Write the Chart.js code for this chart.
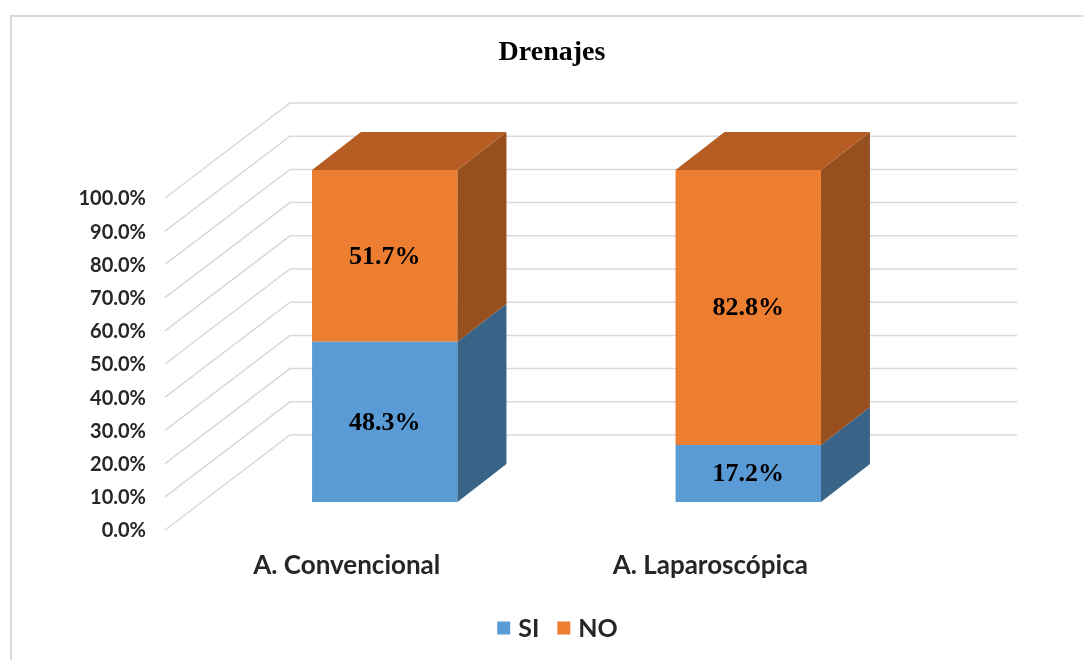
<!DOCTYPE html>
<html>
<head>
<meta charset="utf-8">
<script src="https://cdn.jsdelivr.net/npm/chart.js@4.4.1/dist/chart.umd.min.js"></script>
<style>
  html, body { margin: 0; padding: 0; background: #ffffff; }
  #c { display: block; }
</style>
</head>
<body>
<canvas id="c" width="1083" height="660"></canvas>
<script>
// Categories and series (percentages)
const categories = ['A. Convencional', 'A. Laparoscópica'];
const seriesNames = ['SI', 'NO'];
const siValues = [48.3, 17.2];
const noValues = [51.7, 82.8];
const yTickValues = [0, 10, 20, 30, 40, 50, 60, 70, 80, 90, 100];
const chartTitle = 'Drenajes';

// Face colours: front, side (shaded), top (shaded)
const faceColors = {
  SI: { front: '#5B9BD5', side: '#3A6487', top: '#4A7DAE' },
  NO: { front: '#ED7D31', side: '#974F1E', top: '#B55D23' }
};

// Depth of the bars and of the wall box, in pixels
const BAR_DX = 49, BAR_DY = -38;
const FRONT_DX = -38, FRONT_DY = 28;
const BACK_DX = 87, BACK_DY = -67;
const GRID_COLOR = '#D9D9D9';
const TEXT_COLOR = '#262626';

const fmtPct = v => v.toFixed(1) + '%';

const box3d = {
  id: 'box3d',
  beforeDraw(chart) {
    const ctx = chart.ctx;
    ctx.save();
    ctx.fillStyle = '#ffffff';
    ctx.fillRect(0, 0, chart.width, chart.height);
    // outer frame
    ctx.strokeStyle = '#D9D9D9';
    ctx.lineWidth = 2;
    ctx.beginPath();
    ctx.moveTo(11, chart.height);
    ctx.lineTo(11, 16);
    ctx.lineTo(chart.width, 16);
    ctx.stroke();
    ctx.restore();
  },
  beforeDatasetsDraw(chart) {
    const ctx = chart.ctx;
    const y = chart.scales.y;
    const area = chart.chartArea;
    ctx.save();
    ctx.strokeStyle = GRID_COLOR;
    ctx.lineWidth = 1.5;
    yTickValues.forEach(v => {
      const py = y.getPixelForValue(v);
      ctx.beginPath();
      ctx.moveTo(area.left + FRONT_DX, py + FRONT_DY);
      ctx.lineTo(area.left + BACK_DX, py + BACK_DY);
      ctx.lineTo(area.right + BACK_DX, py + BACK_DY);
      ctx.stroke();
    });
    ctx.restore();
  },
  afterDatasetsDraw(chart) {
    const ctx = chart.ctx;
    const lastIndex = chart.data.datasets.length - 1;
    ctx.save();
    chart.data.datasets.forEach((ds, di) => {
      const meta = chart.getDatasetMeta(di);
      const colors = faceColors[ds.label];
      meta.data.forEach(bar => {
        const p = bar.getProps(['x', 'y', 'base', 'width'], true);
        const left = p.x - p.width / 2, right = p.x + p.width / 2;
        const top = Math.min(p.y, p.base), bottom = Math.max(p.y, p.base);
        // side face
        ctx.fillStyle = colors.side;
        ctx.beginPath();
        ctx.moveTo(right, top);
        ctx.lineTo(right + BAR_DX, top + BAR_DY);
        ctx.lineTo(right + BAR_DX, bottom + BAR_DY);
        ctx.lineTo(right, bottom);
        ctx.closePath();
        ctx.fill();
        // top face on the upper segment
        if (di === lastIndex) {
          ctx.fillStyle = colors.top;
          ctx.beginPath();
          ctx.moveTo(left, top);
          ctx.lineTo(left + BAR_DX, top + BAR_DY);
          ctx.lineTo(right + BAR_DX, top + BAR_DY);
          ctx.lineTo(right, top);
          ctx.closePath();
          ctx.fill();
        }
      });
    });
    // value labels
    ctx.fillStyle = '#000000';
    ctx.font = 'bold 26px "Liberation Serif", "Times New Roman", serif';
    ctx.textAlign = 'center';
    ctx.textBaseline = 'middle';
    chart.data.datasets.forEach((ds, di) => {
      const meta = chart.getDatasetMeta(di);
      meta.data.forEach((bar, i) => {
        const p = bar.getProps(['x', 'y', 'base'], true);
        ctx.fillText(fmtPct(ds.data[i]), p.x, (p.y + p.base) / 2 + 1);
      });
    });
    ctx.restore();
  },
  afterDraw(chart) {
    const ctx = chart.ctx;
    ctx.save();
    // title
    ctx.fillStyle = '#000000';
    ctx.font = 'bold 28px "Liberation Serif", "Times New Roman", serif';
    ctx.textAlign = 'center';
    ctx.textBaseline = 'alphabetic';
    ctx.fillText(chartTitle, 552, 60);
    // legend
    ctx.font = 'bold 25px Lato, sans-serif';
    ctx.textBaseline = 'middle';
    ctx.textAlign = 'left';
    const box = 13, gapText = 8, gapItem = 18;
    const widths = chart.data.datasets.map(ds => ctx.measureText(ds.label).width);
    const total = widths.reduce((a, w) => a + box + gapText + w, 0) + gapItem * (widths.length - 1);
    let x = 557.5 - total / 2;
    const cy = 628;
    chart.data.datasets.forEach((ds, di) => {
      ctx.fillStyle = faceColors[ds.label].front;
      ctx.fillRect(x, cy - box / 2, box, box);
      x += box + gapText;
      ctx.fillStyle = TEXT_COLOR;
      ctx.fillText(ds.label, x, cy + 1);
      x += widths[di] + gapItem;
    });
    ctx.restore();
  }
};

new Chart(document.getElementById('c'), {
  type: 'bar',
  data: {
    labels: categories,
    datasets: [
      { label: seriesNames[0], data: siValues, backgroundColor: faceColors.SI.front, borderWidth: 0 },
      { label: seriesNames[1], data: noValues, backgroundColor: faceColors.NO.front, borderWidth: 0 }
    ]
  },
  options: {
    responsive: false,
    devicePixelRatio: 1,
    animation: false,
    layout: { padding: { top: 170, right: 153, bottom: 0, left: 0 } },
    datasets: { bar: { barPercentage: 0.4, categoryPercentage: 1.0 } },
    plugins: {
      legend: { display: false },
      title: { display: false },
      tooltip: { enabled: false }
    },
    scales: {
      x: {
        stacked: true,
        grid: { display: false, drawTicks: false },
        border: { display: false },
        ticks: {
          padding: 48,
          labelOffset: FRONT_DX,
          color: TEXT_COLOR,
          font: { family: 'Lato', weight: 'bold', size: 26 }
        },
        afterFit(scale) { scale.height = 158; }
      },
      y: {
        stacked: true,
        min: 0,
        max: 100,
        grid: { display: false, drawTicks: false },
        border: { display: false },
        afterBuildTicks(scale) { scale.ticks = yTickValues.map(v => ({ value: v })); },
        ticks: {
          padding: 57,
          labelOffset: 29,
          color: TEXT_COLOR,
          font: { family: 'Lato', weight: 'bold', size: 20 },
          callback: v => fmtPct(v)
        },
        afterFit(scale) { scale.width = 203; }
      }
    }
  },
  plugins: [box3d]
});
</script>
</body>
</html>
